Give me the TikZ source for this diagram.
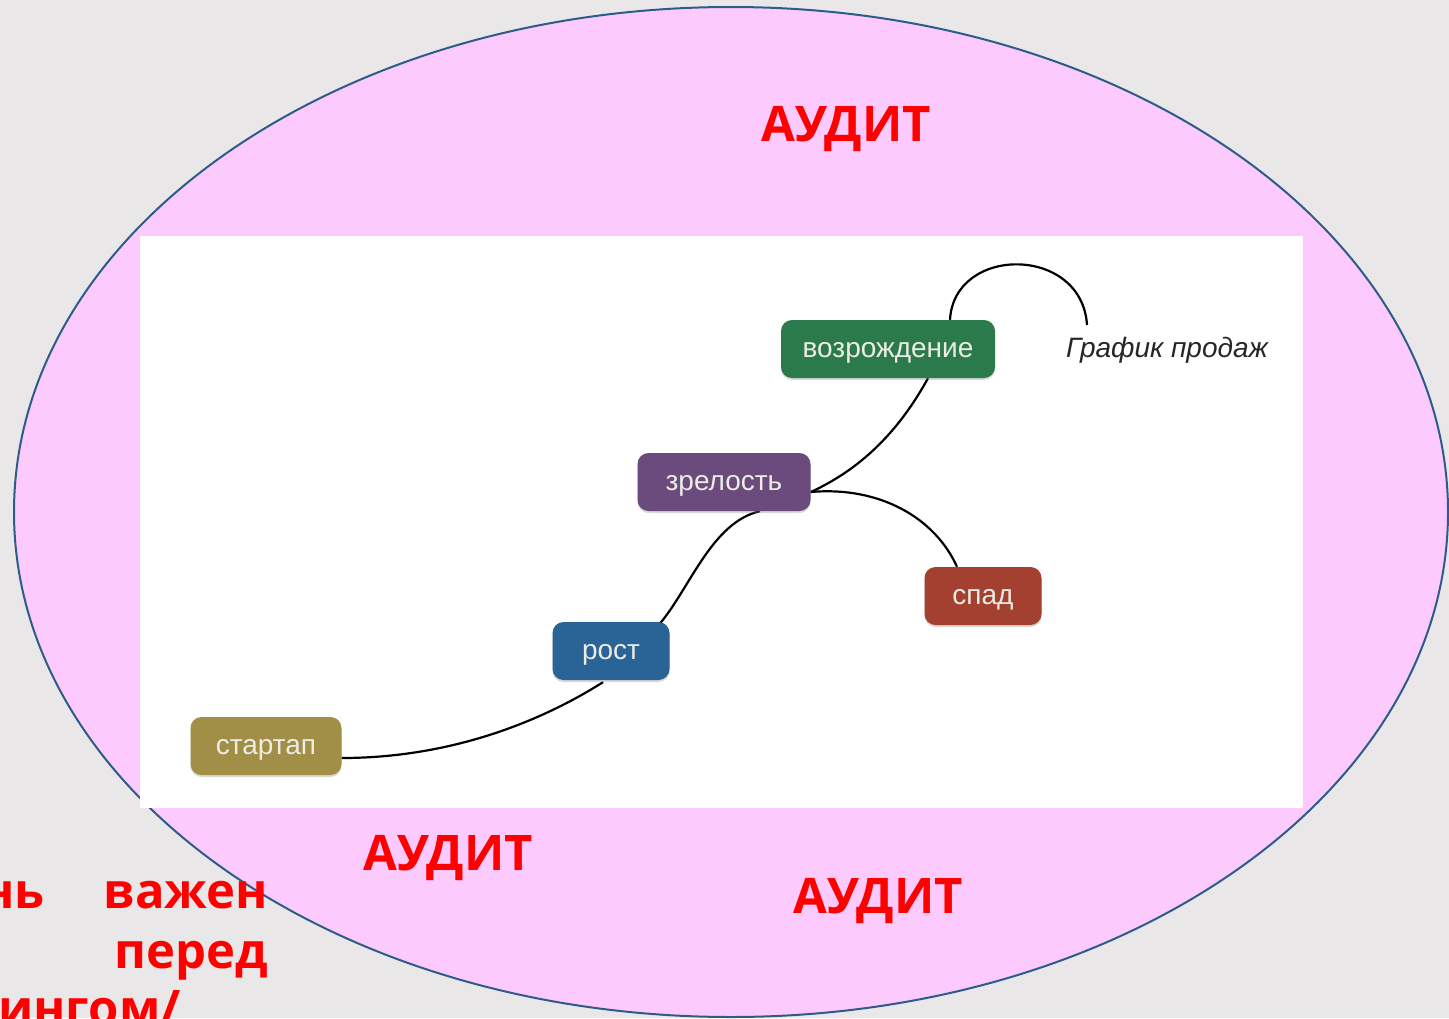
\documentclass[tikz,border=0pt]{standalone}
\usepackage{fontspec}
\setmainfont{Liberation Sans}
\newfontfamily\osfont{Open Sans}
\usetikzlibrary{shadows,calc}
\pgfdeclarelayer{back}
\pgfsetlayers{back,main}
\definecolor{bgc}{HTML}{E9E7E8}
\definecolor{pinkc}{HTML}{FDCAFD}
\definecolor{ellc}{HTML}{2E5C8A}
\definecolor{greenc}{HTML}{2B7A4B}
\definecolor{purplec}{HTML}{6B4A7D}
\definecolor{redc}{HTML}{A4402F}
\definecolor{bluec}{HTML}{2A6395}
\definecolor{olivec}{HTML}{A28F47}
\definecolor{boxtext}{HTML}{ECECE4}
\definecolor{audc}{HTML}{FF0000}
\tikzset{
  stage/.style={rounded corners=11pt, minimum height=58pt, inner sep=0pt,
    text=boxtext, font=\fontsize{28}{32}\selectfont, text height=17pt, text depth=0pt,
    drop shadow={opacity=0.3, shadow xshift=0pt, shadow yshift=-2pt}},
  audit/.style={text=audc, font=\osfont\bfseries\fontsize{49}{60}\selectfont, inner sep=0pt},
  curve/.style={line width=2.2pt, black}
}
\begin{document}
\begin{tikzpicture}[x=1pt,y=-1pt]
\useasboundingbox (0,0) rectangle (1449,1018);
\clip (0,0) rectangle (1449,1018);

\node[stage, fill=greenc, minimum width=214pt] (vozr) at (888,349) {возрождение};
\node[stage, fill=purplec, minimum width=173pt] (zrel) at (724,482) {зрелость};
\node[stage, fill=redc, minimum width=117pt] (spad) at (983,596) {спад};
\node[stage, fill=bluec, minimum width=117pt] (rost) at (611,651) {рост};
\node[stage, fill=olivec, minimum width=151pt] (start) at (266,746) {стартап};
\coordinate (arcend) at (1087,325);
\node[font=\itshape\fontsize{28}{30}\selectfont, text=black!85, inner sep=0pt, text height=17pt, text depth=0pt] (graf) at (1167,349) {График продаж};

\begin{pgfonlayer}{back}
\fill[bgc] (0,0) rectangle (1449,1018);
\draw[fill=pinkc, draw=ellc, line width=2pt] (731,512) ellipse [x radius=717pt, y radius=505pt];
\fill[white] (140,236) rectangle (1303,808);
\draw[curve] ($(start.east)+(0,12)$) .. controls (450,758) and (540,722) .. ($(rost.south)+(-8,2)$);
\draw[curve] ($(rost.north east)+(-10,2)$) .. controls (690,588) and (712,522) .. ($(zrel.south)+(36,0)$);
\draw[curve] ($(zrel.east)+(0,10)$) .. controls (870,465) and (905,420) .. ($(vozr.south)+(40,0)$);
\draw[curve] ($(zrel.east)+(0,10)$) .. controls (880,486) and (935,518) .. ($(spad.north)+(-26,0)$);
\draw[curve] ($(vozr.north)+(62,0)$) .. controls (954,245) and (1082,245) .. (arcend);
\end{pgfonlayer}

\node[audit, anchor=base] (a1) at (846,141) {АУДИТ};
\node[audit, anchor=base] (a2) at (448,870) {АУДИТ};
\node[audit, anchor=base] (a3) at (878,913) {АУДИТ};

\node[audit, anchor=base east] (t1) at (45,908) {нь};
\node[audit, anchor=base east] (t2) at (268,908) {важен};
\node[audit, anchor=base east] (t3) at (268,968) {перед};
\node[audit, anchor=base west] (t4) at (-2,1025) {ингом/};
\end{tikzpicture}
\end{document}
